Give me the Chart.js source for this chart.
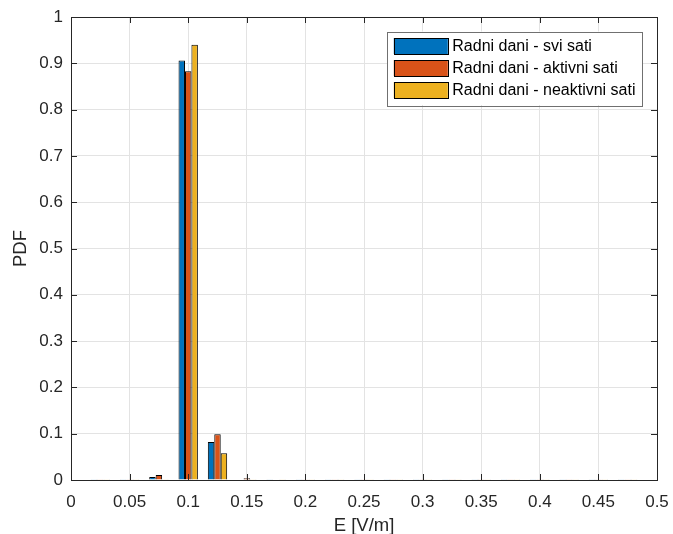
<!DOCTYPE html>
<html>
<head>
<meta charset="utf-8">
<script src="https://cdn.jsdelivr.net/npm/chart.js@4.4.1/dist/chart.umd.min.js"></script>
<style>
  html, body { margin: 0; padding: 0; background: #fff; overflow: hidden; }
  #wrap { width: 673px; height: 534px; position: relative; }
</style>
</head>
<body>
<div id="wrap"><canvas id="pdfChart"></canvas></div>
<script>
// bin centres, E [V/m]
const binCenters = [0.025, 0.05, 0.075, 0.1, 0.125, 0.15, 0.175, 0.2, 0.225, 0.25,
                    0.275, 0.3, 0.325, 0.35, 0.375, 0.4, 0.425, 0.45, 0.475];

const sviSati = [0.0003, 0.0003, 0.0065, 0.906, 0.082, 0.001, 0.0004, 0.0003, 0.0003, 0.0003,
                 0.0003, 0.0003, 0.0003, 0.0003, 0.0003, 0.0003, 0.0003, 0.0003, 0.0003];
const aktivniSati = [0.0003, 0.0003, 0.011, 0.883, 0.099, 0.004, 0.001, 0.0004, 0.0003, 0.0003,
                     0.0003, 0.0003, 0.0003, 0.0003, 0.0003, 0.0003, 0.0003, 0.0003, 0.0003];
const neaktivniSati = [0.0003, 0.0003, 0.0004, 0.940, 0.058, 0.0004, 0.0004, 0.0003, 0.0003, 0.0003,
                       0.0003, 0.0003, 0.0003, 0.0003, 0.0003, 0.0003, 0.0003, 0.0003, 0.0003];

const seriesLabels = ['Radni dani - svi sati', 'Radni dani - aktivni sati', 'Radni dani - neaktivni sati'];
const seriesColors = ['#0072BD', '#D95319', '#EDB120'];

const xTicks = [0, 0.05, 0.1, 0.15, 0.2, 0.25, 0.3, 0.35, 0.4, 0.45, 0.5];
const yTicks = [0, 0.1, 0.2, 0.3, 0.4, 0.5, 0.6, 0.7, 0.8, 0.9, 1];

const FONT = '"Liberation Sans", Arial, Helvetica, sans-serif';
const AXIS = '#262626';

function toPoints(vals) {
    return binCenters.map((c, i) => ({ x: c, y: vals[i] }));
}

// box, inward ticks, axis titles and legend, MATLAB style
const matlabAxes = {
    id: 'matlabAxes',
    afterDatasetsDraw(chart) {
        const { ctx, chartArea: ca, scales } = chart;
        const tl = 6;
        ctx.save();
        ctx.strokeStyle = AXIS;
        ctx.lineWidth = 1;
        ctx.beginPath();
        xTicks.forEach(v => {
            const px = Math.round(scales.x.getPixelForValue(v)) + 0.5;
            ctx.moveTo(px, ca.bottom); ctx.lineTo(px, ca.bottom - tl);
            ctx.moveTo(px, ca.top); ctx.lineTo(px, ca.top + tl);
        });
        yTicks.forEach(v => {
            const py = Math.round(scales.y.getPixelForValue(v)) + 0.5;
            ctx.moveTo(ca.left, py); ctx.lineTo(ca.left + tl, py);
            ctx.moveTo(ca.right, py); ctx.lineTo(ca.right - tl, py);
        });
        ctx.stroke();
        ctx.strokeRect(Math.round(ca.left) + 0.5, Math.round(ca.top) + 0.5,
                       Math.round(ca.right - ca.left), Math.round(ca.bottom - ca.top));

        // axis titles
        ctx.fillStyle = AXIS;
        ctx.font = '18.5px ' + FONT;
        ctx.textAlign = 'center';
        ctx.textBaseline = 'alphabetic';
        ctx.fillText('E [V/m]', (ca.left + ca.right) / 2, 531);
        ctx.save();
        ctx.translate(26, (ca.top + ca.bottom) / 2);
        ctx.rotate(-Math.PI / 2);
        ctx.fillText('PDF', 0, 0);
        ctx.restore();

        // legend
        ctx.font = '16px ' + FONT;
        const textW = Math.max(...seriesLabels.map(s => ctx.measureText(s).width));
        const boxW = 6 + 54 + 5 + textW + 7;
        const boxR = ca.right - 14.5;
        const boxL = boxR - boxW;
        const boxT = ca.top + 14.5;
        const rowH = 22;
        const boxH = 7 + rowH * 3 + 0.5;
        ctx.fillStyle = '#fff';
        ctx.fillRect(boxL, boxT, boxW, boxH);
        ctx.strokeStyle = '#707070';
        ctx.strokeRect(Math.round(boxL) + 0.5, Math.round(boxT) + 0.5, Math.round(boxW), Math.round(boxH));
        ctx.textAlign = 'left';
        ctx.textBaseline = 'middle';
        chart.data.datasets.forEach((ds, i) => {
            const sy = Math.round(boxT + 6.5 + i * rowH);
            ctx.fillStyle = ds.backgroundColor;
            ctx.fillRect(boxL + 6.5, sy, 54, 16);
            ctx.strokeStyle = '#000';
            ctx.strokeRect(Math.round(boxL + 6.5) + 0.5, sy + 0.5, 54, 16);
            ctx.fillStyle = '#000';
            ctx.fillText(ds.label, boxL + 65, sy + 8.5);
        });
        ctx.restore();
    }
};

const ctx = document.getElementById('pdfChart').getContext('2d');
const chart = new Chart(ctx, {
    type: 'bar',
    data: {
        datasets: [
            { label: seriesLabels[0], data: toPoints(sviSati), backgroundColor: seriesColors[0] },
            { label: seriesLabels[1], data: toPoints(aktivniSati), backgroundColor: seriesColors[1] },
            { label: seriesLabels[2], data: toPoints(neaktivniSati), backgroundColor: seriesColors[2] }
        ]
    },
    options: {
        responsive: true,
        maintainAspectRatio: false,
        animation: false,
        layout: { padding: { top: 17, right: 16, left: 0, bottom: 0 } },
        datasets: {
            bar: {
                borderColor: '#000',
                borderWidth: 1,
                categoryPercentage: 0.66,
                barPercentage: 1.0
            }
        },
        plugins: {
            legend: { display: false },
            tooltip: { enabled: false }
        },
        scales: {
            x: {
                type: 'linear',
                min: 0,
                max: 0.5,
                offset: false,
                afterBuildTicks: s => { s.ticks = xTicks.map(v => ({ value: v })); },
                afterFit: s => { s.height = 54; s.paddingLeft = 0; s.paddingRight = 0; },
                ticks: {
                    color: AXIS,
                    padding: 12,
                    maxRotation: 0,
                    autoSkip: false,
                    font: { family: FONT, size: 17 },
                    callback: v => String(+v.toFixed(3))
                },
                grid: { color: '#e3e3e3', drawTicks: false, offset: false },
                border: { display: false }
            },
            y: {
                min: 0,
                max: 1,
                afterBuildTicks: s => { s.ticks = yTicks.map(v => ({ value: v })); },
                afterFit: s => { s.width = 71; s.paddingTop = 0; s.paddingBottom = 0; },
                ticks: {
                    color: AXIS,
                    padding: 8,
                    font: { family: FONT, size: 17 },
                    callback: v => String(+v.toFixed(3))
                },
                grid: { color: '#e3e3e3', drawTicks: false },
                border: { display: false }
            }
        }
    },
    plugins: [matlabAxes]
});
</script>
</body>
</html>
